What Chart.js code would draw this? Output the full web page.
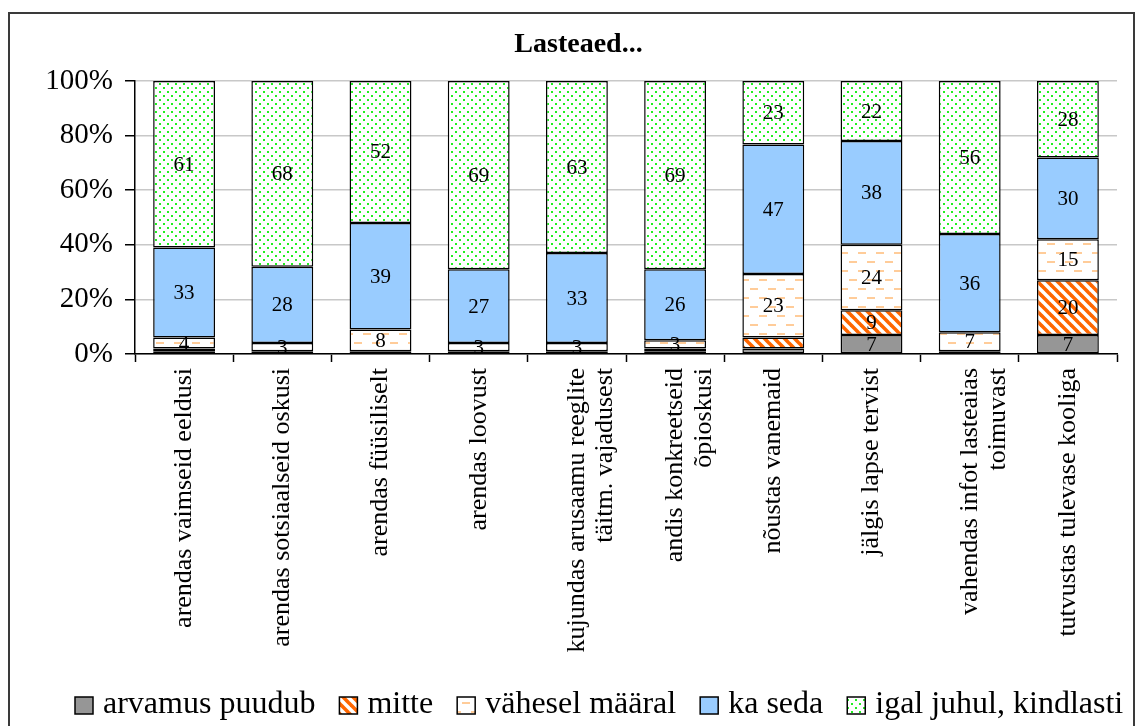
<!DOCTYPE html>
<html>
<head>
<meta charset="utf-8">
<script src="https://cdn.jsdelivr.net/npm/chart.js@4/dist/chart.umd.min.js"></script>
<style>
    html, body { margin: 0; padding: 0; background: #fff; overflow: hidden; }
    #frame { position: absolute; left: 8px; top: 12px; width: 1123px; height: 740px; border: 2px solid #3a3a3a; border-bottom: none; overflow: hidden; }
    #chart { position: absolute; left: 0; top: 0; }
</style>
</head>
<body>
<div id="frame"><canvas id="chart" width="1123" height="712"></canvas></div>
<script>
    'use strict';

    const categories = [
        'arendas vaimseid eeldusi',
        'arendas sotsiaalseid oskusi',
        'arendas füüsiliselt',
        'arendas loovust',
        ['kujundas arusaamu reeglite', 'täitm. vajadusest'],
        ['andis konkreetseid', 'õpioskusi'],
        'nõustas vanemaid',
        'jälgis lapse tervist',
        ['vahendas infot lasteaias', 'toimuvast'],
        'tutvustas tulevase kooliga'
    ];
    const arvamusPuudub = [1, 0, 1, 1, 1, 1, 2, 7, 1, 7];
    const mitte = [1, 1, 0, 0, 0, 1, 4, 9, 0, 20];
    const vaheselMaaral = [4, 3, 8, 3, 3, 3, 23, 24, 7, 15];
    const kaSeda = [33, 28, 39, 27, 33, 26, 47, 38, 36, 30];
    const igalJuhul = [61, 68, 52, 69, 63, 69, 23, 22, 56, 28];
    const yTicks = [0, 20, 40, 60, 80, 100];

    const SERIF = '"Liberation Serif", "Times New Roman", serif';

    function tile(size, draw) {
        var c = document.createElement('canvas');
        c.width = size; c.height = size;
        var g = c.getContext('2d');
        g.fillStyle = '#fff';
        g.fillRect(0, 0, size, size);
        draw(g, size);
        return document.getElementById('chart').getContext('2d').createPattern(c, 'repeat');
    }

    // hatches like the old Excel fills
    const stripes = tile(10, function (g, s) {
        g.strokeStyle = '#ff6600';
        g.lineWidth = 3.6;
        for (var k = -1; k <= 1; k++) {
            g.beginPath();
            g.moveTo(k * s - 2, -2);
            g.lineTo(k * s + s + 2, s + 2);
            g.stroke();
        }
    });
    const dashes = tile(18, function (g) {
        g.fillStyle = '#ffcc99';
        g.fillRect(2, 4, 8, 2);
        g.fillRect(11, 13, 8, 2);
        g.fillRect(0, 13, 1, 2);
    });
    const dots = tile(8, function (g) {
        g.fillStyle = '#22ee22';
        g.fillRect(1, 1, 2, 2);
        g.fillRect(5, 5, 2, 2);
    });

    const totals = categories.map(function (c, j) {
        return arvamusPuudub[j] + mitte[j] + vaheselMaaral[j] + kaSeda[j] + igalJuhul[j];
    });
    function pct(arr) {
        return arr.map(function (v, j) { return v / totals[j] * 100; });
    }

    function series(label, values, fill, minLabel) {
        return {
            label: label,
            data: pct(values),
            raw: values,
            minLabel: minLabel,
            backgroundColor: fill,
            borderColor: '#000',
            borderWidth: 1.5,
            borderSkipped: false,
            categoryPercentage: 1,
            barPercentage: 0.63
        };
    }

    const segmentLabels = {
        id: 'segmentLabels',
        afterDatasetsDraw: function (chart) {
            var ctx = chart.ctx;
            ctx.save();
            ctx.font = '21px ' + SERIF;
            ctx.fillStyle = '#000';
            ctx.textAlign = 'center';
            ctx.textBaseline = 'middle';
            chart.data.datasets.forEach(function (ds, i) {
                chart.getDatasetMeta(i).data.forEach(function (bar, j) {
                    var v = ds.raw[j];
                    if (v < ds.minLabel) return;
                    ctx.fillText(String(v), bar.x, (bar.y + bar.base) / 2 + 1);
                });
            });
            ctx.restore();
        }
    };

    const titleAndLegend = {
        id: 'titleAndLegend',
        afterDraw: function (chart) {
            var ctx = chart.ctx;
            ctx.save();
            ctx.fillStyle = '#000';
            ctx.font = 'bold 28px ' + SERIF;
            ctx.textAlign = 'center';
            ctx.textBaseline = 'alphabetic';
            ctx.fillText('Lasteaed...', chart.width / 2 + 7, 38);

            ctx.font = '32px ' + SERIF;
            ctx.textAlign = 'left';
            var x = 65;
            chart.data.datasets.forEach(function (ds) {
                ctx.fillStyle = ds.backgroundColor;
                ctx.fillRect(x, 683, 18, 17);
                ctx.strokeStyle = '#000';
                ctx.lineWidth = 1.5;
                ctx.strokeRect(x, 683, 18, 17);
                ctx.fillStyle = '#000';
                ctx.fillText(ds.label, x + 28, 699);
                x += 28 + ctx.measureText(ds.label).width + 24;
            });
            ctx.restore();
        }
    };

    const ctx = document.getElementById('chart').getContext('2d');
    const chart = new Chart(ctx, {
        type: 'bar',
        data: {
            labels: categories,
            datasets: [
                series('arvamus puudub', arvamusPuudub, '#969696', 3),
                series('mitte', mitte, stripes, 5),
                series('vähesel määral', vaheselMaaral, dashes, 3),
                series('ka seda', kaSeda, '#99ccff', 3),
                series('igal juhul, kindlasti', igalJuhul, dots, 3)
            ]
        },
        options: {
            responsive: false,
            animation: false,
            devicePixelRatio: 1,
            layout: { padding: { top: 67, right: 16, bottom: 42, left: 0 } },
            plugins: {
                legend: { display: false },
                title: { display: false },
                tooltip: { enabled: false }
            },
            scales: {
                x: {
                    stacked: true,
                    afterFit: function (s) { s.height = 330; },
                    grid: { drawOnChartArea: false, offset: true, tickLength: 8, tickColor: '#000', tickWidth: 1.5 },
                    border: { color: '#000', width: 1.5 },
                    ticks: {
                        color: '#000',
                        minRotation: 90,
                        maxRotation: 90,
                        autoSkip: false,
                        padding: 6,
                        font: { family: SERIF, size: 26, lineHeight: 1.1 }
                    }
                },
                y: {
                    stacked: true,
                    min: 0,
                    max: 100,
                    afterFit: function (s) { s.width = 125; },
                    afterBuildTicks: function (s) {
                        s.ticks = yTicks.map(function (v) { return { value: v }; });
                    },
                    grid: { color: '#c8c8c8', lineWidth: 1.5, tickLength: 10, tickColor: '#000', tickWidth: 1.5 },
                    border: { color: '#000', width: 1.5 },
                    ticks: {
                        color: '#000',
                        padding: 12,
                        font: { family: SERIF, size: 29 },
                        callback: function (v) { return v + '%'; }
                    }
                }
            }
        },
        plugins: [segmentLabels, titleAndLegend]
    });
</script>
</body>
</html>
